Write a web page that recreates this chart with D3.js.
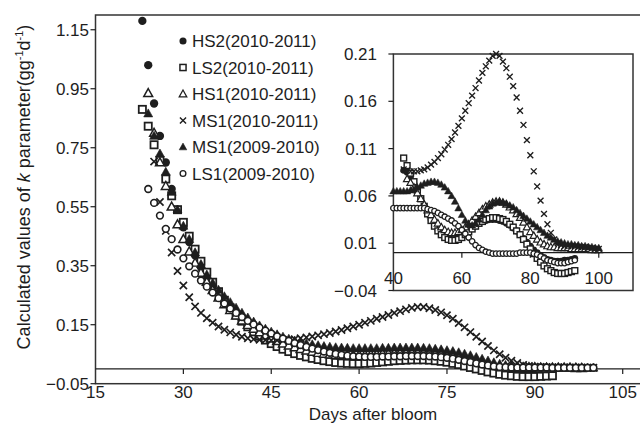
<!DOCTYPE html>
<html>
<head>
<meta charset="utf-8">
<script src="https://cdnjs.cloudflare.com/ajax/libs/d3/7.8.5/d3.min.js"></script>
<style>
    body { margin: 0; background: #fff; }
    svg { display: block; font-family: "Liberation Sans", Arial, sans-serif; }
</style>
</head>
<body>
<div id="chart"></div>
<script>
const seriesNames = ["HS2(2010-2011)", "LS2(2010-2011)", "HS1(2010-2011)", "MS1(2010-2011)", "MS1(2009-2010)", "LS1(2009-2010)"];

// main chart: first day of each series, then one value per day
const mainStartDays = [23, 23, 24, 25, 24, 24];
const mainHS2 = [1.18, 1.03, 0.90, 0.79, 0.70, 0.61, 0.54, 0.48, 0.43, 0.385,
    0.345, 0.31, 0.28, 0.252, 0.228, 0.206, 0.185, 0.165, 0.148, 0.133,
    0.119, 0.106, 0.095, 0.086, 0.078, 0.071, 0.064, 0.058, 0.053, 0.048,
    0.044, 0.040, 0.037, 0.034, 0.032, 0.030, 0.029, 0.029, 0.030, 0.031,
    0.033, 0.035, 0.037, 0.039, 0.041, 0.042, 0.043, 0.043, 0.043, 0.042,
    0.040, 0.038, 0.035, 0.031, 0.027, 0.023, 0.018, 0.013, 0.008, 0.004,
    0.000, -0.003, -0.006, -0.008, -0.010, -0.011, -0.011, -0.011, -0.010, -0.009,
    -0.008];
const mainLS2 = [0.88, 0.823, 0.76, 0.707, 0.644, 0.587, 0.54, 0.497, 0.45, 0.406,
    0.365, 0.328, 0.294, 0.262, 0.233, 0.207, 0.183, 0.162, 0.143, 0.126,
    0.111, 0.098, 0.086, 0.076, 0.067, 0.059, 0.052, 0.046, 0.041, 0.036,
    0.032, 0.028, 0.025, 0.022, 0.020, 0.019, 0.018, 0.018, 0.019, 0.020,
    0.022, 0.024, 0.026, 0.028, 0.029, 0.030, 0.031, 0.031, 0.031, 0.030,
    0.028, 0.026, 0.023, 0.019, 0.015, 0.010, 0.005, 0.000, -0.005, -0.010,
    -0.014, -0.018, -0.021, -0.023, -0.025, -0.026, -0.026, -0.026, -0.025, -0.024,
    -0.023];
const mainHS1 = [0.935, 0.80, 0.70, 0.62, 0.55, 0.49, 0.44, 0.398, 0.36,
    0.326, 0.295, 0.267, 0.242, 0.219, 0.199, 0.181, 0.164, 0.149, 0.136,
    0.124, 0.113, 0.103, 0.094, 0.086, 0.079, 0.073, 0.067, 0.062, 0.058,
    0.054, 0.051, 0.049, 0.047, 0.046, 0.046, 0.046, 0.047, 0.048, 0.049,
    0.050, 0.052, 0.053, 0.054, 0.055, 0.056, 0.056, 0.056, 0.056, 0.055,
    0.053, 0.051, 0.048, 0.044, 0.040, 0.035, 0.030, 0.025, 0.020, 0.016,
    0.012, 0.009, 0.007, 0.006, 0.005, 0.005, 0.005, 0.005, 0.004, 0.004,
    0.004, 0.004, 0.004, 0.004, 0.003, 0.003];
const mainMS1 = [0.703, 0.566, 0.468, 0.395, 0.332, 0.283, 0.243, 0.212,
    0.19, 0.172, 0.157, 0.144, 0.133, 0.124, 0.116, 0.109, 0.104, 0.101,
    0.099, 0.098, 0.097, 0.097, 0.098, 0.099, 0.101, 0.104, 0.107, 0.110,
    0.114, 0.118, 0.122, 0.127, 0.132, 0.138, 0.144, 0.150, 0.157, 0.163,
    0.170, 0.176, 0.183, 0.190, 0.196, 0.202, 0.207, 0.210, 0.210, 0.206,
    0.200, 0.192, 0.182, 0.170, 0.156, 0.141, 0.125, 0.109, 0.093, 0.078,
    0.063, 0.050, 0.038, 0.028, 0.020, 0.014, 0.010, 0.008, 0.007, 0.007,
    0.006, 0.006, 0.006, 0.005, 0.005, 0.005, 0.004, 0.004];
const mainMS109 = [0.866, 0.79, 0.73, 0.668, 0.60, 0.54, 0.485, 0.44, 0.395,
    0.355, 0.32, 0.292, 0.268, 0.246, 0.226, 0.207, 0.19, 0.174, 0.16,
    0.147, 0.136, 0.126, 0.117, 0.109, 0.102, 0.096, 0.091, 0.087, 0.083,
    0.080, 0.077, 0.075, 0.073, 0.072, 0.071, 0.070, 0.070, 0.070, 0.070,
    0.070, 0.071, 0.071, 0.072, 0.072, 0.072, 0.072, 0.072, 0.071, 0.070,
    0.068, 0.066, 0.063, 0.060, 0.056, 0.051, 0.046, 0.040, 0.034, 0.028,
    0.022, 0.017, 0.013, 0.010, 0.008, 0.007, 0.006, 0.006, 0.006, 0.006,
    0.005, 0.005, 0.005, 0.005, 0.005, 0.004, 0.004, 0.004];
const mainLS109 = [0.61, 0.563, 0.52, 0.475, 0.44, 0.405, 0.375, 0.348, 0.323,
    0.30, 0.279, 0.259, 0.24, 0.222, 0.205, 0.19, 0.176, 0.163, 0.151,
    0.14, 0.13, 0.12, 0.111, 0.103, 0.095, 0.088, 0.081, 0.075, 0.069,
    0.064, 0.059, 0.055, 0.051, 0.048, 0.045, 0.043, 0.042, 0.041, 0.041,
    0.041, 0.042, 0.042, 0.043, 0.043, 0.044, 0.044, 0.044, 0.044, 0.043,
    0.042, 0.040, 0.038, 0.035, 0.031, 0.027, 0.023, 0.019, 0.015, 0.012,
    0.009, 0.007, 0.006, 0.005, 0.005, 0.005, 0.005, 0.005, 0.005, 0.005,
    0.004, 0.004, 0.004, 0.004, 0.004, 0.004, 0.004, 0.004];

// inset chart
const insetStartDays = [43, 43, 44, 43, 40, 40];
const insetHS2 = [0.087, 0.085, 0.080, 0.073, 0.065, 0.057, 0.049, 0.042, 0.035, 0.029,
    0.024, 0.020, 0.017, 0.015, 0.014, 0.014, 0.015, 0.017, 0.020, 0.023,
    0.026, 0.029, 0.031, 0.033, 0.034, 0.035, 0.035, 0.035, 0.034, 0.033,
    0.031, 0.029, 0.026, 0.023, 0.019, 0.015, 0.011, 0.007, 0.003, 0.000,
    -0.003, -0.005, -0.007, -0.008, -0.009, -0.009, -0.009, -0.008, -0.008, -0.007,
    -0.006];
const insetLS2 = [0.100, 0.092, 0.084, 0.075, 0.066, 0.057, 0.049, 0.041, 0.034, 0.028,
    0.023, 0.019, 0.016, 0.014, 0.013, 0.013, 0.014, 0.016, 0.019, 0.022,
    0.025, 0.028, 0.031, 0.033, 0.035, 0.036, 0.037, 0.037, 0.036, 0.035,
    0.033, 0.030, 0.027, 0.023, 0.019, 0.014, 0.009, 0.004, -0.001, -0.006,
    -0.010, -0.014, -0.017, -0.019, -0.021, -0.022, -0.022, -0.022, -0.021, -0.020,
    -0.019];
const insetHS1 = [0.078, 0.074, 0.069, 0.063, 0.057, 0.051, 0.045, 0.040, 0.035,
    0.031, 0.027, 0.024, 0.022, 0.021, 0.021, 0.022, 0.024, 0.027, 0.030,
    0.034, 0.038, 0.042, 0.046, 0.049, 0.051, 0.053, 0.054, 0.054, 0.053,
    0.051, 0.048, 0.045, 0.041, 0.037, 0.032, 0.027, 0.022, 0.018, 0.014,
    0.011, 0.009, 0.007, 0.006, 0.006, 0.005, 0.005, 0.005, 0.005, 0.004,
    0.004, 0.004, 0.004, 0.004, 0.004, 0.003, 0.003, 0.003];
const insetMS1 = [0.088, 0.087, 0.086, 0.086, 0.086, 0.087, 0.088, 0.090, 0.093, 0.096,
    0.100, 0.104, 0.109, 0.114, 0.120, 0.127, 0.134, 0.142, 0.150, 0.158,
    0.166, 0.174, 0.182, 0.190, 0.197, 0.203, 0.208, 0.210, 0.208, 0.202,
    0.195, 0.186, 0.176, 0.164, 0.150, 0.135, 0.119, 0.103, 0.086, 0.070,
    0.055, 0.041, 0.030, 0.021, 0.014, 0.010, 0.008, 0.007, 0.007, 0.007,
    0.007, 0.006, 0.006, 0.006, 0.005, 0.005, 0.004, 0.004];
const insetMS109 = [0.065, 0.065, 0.065, 0.065, 0.065, 0.066, 0.067, 0.069, 0.071, 0.073,
    0.074, 0.075, 0.075, 0.074, 0.072, 0.069, 0.065, 0.060, 0.054, 0.047,
    0.040, 0.034, 0.030, 0.029, 0.031, 0.035, 0.040, 0.045, 0.049, 0.052,
    0.053, 0.054, 0.053, 0.052, 0.050, 0.048, 0.045, 0.042, 0.039, 0.036,
    0.033, 0.030, 0.027, 0.024, 0.021, 0.018, 0.016, 0.014, 0.012, 0.011,
    0.010, 0.009, 0.009, 0.008, 0.008, 0.007, 0.007, 0.006, 0.006, 0.005,
    0.005];
const insetLS109 = [0.047, 0.047, 0.047, 0.047, 0.047, 0.047, 0.047, 0.047, 0.047, 0.047,
    0.046, 0.045, 0.044, 0.042, 0.040, 0.038, 0.036, 0.034, 0.031, 0.028,
    0.024, 0.020, 0.016, 0.012, 0.008, 0.005, 0.003, 0.001, 0.000, -0.001,
    -0.001, -0.001, -0.001, -0.001, -0.001, -0.001, -0.001, 0.000, 0.000, 0.000,
    0.000, -0.001, -0.002, -0.004, -0.006, -0.008, -0.009, -0.010, -0.011, -0.011,
    -0.011, -0.010, -0.009, -0.008];

const mainXTicks = [15, 30, 45, 60, 75, 90, 105];
const mainYTicks = [-0.05, 0.15, 0.35, 0.55, 0.75, 0.95, 1.15];
const insetXTicks = [40, 60, 80, 100];
const insetYTicks = [-0.04, 0.01, 0.06, 0.11, 0.16, 0.21];

(function() {
    const ink = "#1e1e1e";
    const fontSize = 17;
    const markerTypes = ["dot", "square", "triangle", "cross", "filledTriangle", "ring"];
    const mainSeries = [mainHS2, mainLS2, mainHS1, mainMS1, mainMS109, mainLS109];
    const insetSeries = [insetHS2, insetLS2, insetHS1, insetMS1, insetMS109, insetLS109];

    const svg = d3.select("#chart")
        .append("svg")
        .attr("width", 640)
        .attr("height", 432);

    // one marker shape per series, s = nominal size in px
    function addMarker(sel, type, s) {
        if (type === "dot") {
            sel.append("circle").attr("r", s * 0.52).attr("fill", ink);
        } else if (type === "ring") {
            sel.append("circle").attr("r", s * 0.42)
                .attr("fill", "#fff").attr("stroke", ink).attr("stroke-width", s * 0.2);
        } else if (type === "square") {
            sel.append("rect")
                .attr("x", -s * 0.45).attr("y", -s * 0.45)
                .attr("width", s * 0.9).attr("height", s * 0.9)
                .attr("fill", "#fff").attr("stroke", ink).attr("stroke-width", s * 0.22);
        } else if (type === "triangle" || type === "filledTriangle") {
            sel.append("path")
                .attr("d", `M0,${-s * 0.58}L${s * 0.56},${s * 0.42}L${-s * 0.56},${s * 0.42}Z`)
                .attr("fill", type === "triangle" ? "#fff" : ink)
                .attr("stroke", ink)
                .attr("stroke-width", type === "triangle" ? s * 0.18 : s * 0.08);
        } else {
            const h = s * 0.45;
            sel.append("path")
                .attr("d", `M${-h},${-h}L${h},${h}M${-h},${h}L${h},${-h}`)
                .attr("stroke", ink).attr("stroke-width", s * 0.21).attr("fill", "none");
        }
    }

    function drawSeries(g, x, y, seriesList, starts, size) {
        seriesList.forEach((values, i) => {
            const pts = values.map((v, k) => ({ day: starts[i] + k, value: v }));
            const marks = g.append("g").selectAll("g")
                .data(pts)
                .enter().append("g")
                .attr("transform", d => `translate(${x(d.day)},${y(d.value)})`);
            addMarker(marks, markerTypes[i], size);
        });
    }

    const fmt = d3.format(".2f");

    // ---- main chart ----
    const x = d3.scaleLinear().domain([15, 110]).range([95.5, 652]);
    const y = d3.scaleLinear().domain([-0.05, 1.2]).range([383.7, 15]);
    const main = svg.append("g");

    main.append("rect")
        .attr("x", x(15)).attr("y", y(1.2))
        .attr("width", x(110) - x(15)).attr("height", y(-0.05) - y(1.2))
        .attr("fill", "none").attr("stroke", "#333").attr("stroke-width", 1.5);

    main.append("line")
        .attr("x1", x(15)).attr("x2", x(110))
        .attr("y1", y(0)).attr("y2", y(0))
        .attr("stroke", ink).attr("stroke-width", 1.2);

    main.selectAll(".xtick").data(mainXTicks.slice(1)).enter().append("line")
        .attr("x1", d => x(d)).attr("x2", d => x(d))
        .attr("y1", y(0)).attr("y2", y(0) + 5)
        .attr("stroke", ink).attr("stroke-width", 1.2);

    main.selectAll(".xlab").data(mainXTicks).enter().append("text")
        .attr("x", d => x(d)).attr("y", 398)
        .attr("text-anchor", "middle")
        .attr("font-size", fontSize).attr("fill", ink)
        .text(d => d);

    main.selectAll(".ytick").data(mainYTicks).enter().append("line")
        .attr("x1", x(15) - 5).attr("x2", x(15))
        .attr("y1", d => y(d)).attr("y2", d => y(d))
        .attr("stroke", ink).attr("stroke-width", 1.2);

    main.selectAll(".ylab").data(mainYTicks).enter().append("text")
        .attr("x", 89).attr("y", d => y(d))
        .attr("dy", "0.36em")
        .attr("text-anchor", "end")
        .attr("font-size", fontSize).attr("fill", ink)
        .text(d => fmt(d));

    main.append("text")
        .attr("x", 373).attr("y", 420)
        .attr("text-anchor", "middle")
        .attr("font-size", fontSize).attr("fill", ink)
        .text("Days after bloom");

    const yTitle = main.append("text")
        .attr("transform", "translate(30,187) rotate(-90)")
        .attr("text-anchor", "middle")
        .attr("font-size", 18).attr("fill", ink);
    yTitle.append("tspan").text("Calculated values of ");
    yTitle.append("tspan").attr("font-style", "italic").text("k");
    yTitle.append("tspan").text(" parameter(gg");
    yTitle.append("tspan").attr("font-size", 11).attr("dy", -7).text("-1");
    yTitle.append("tspan").attr("dy", 7).text("d");
    yTitle.append("tspan").attr("font-size", 11).attr("dy", -7).text("-1");
    yTitle.append("tspan").attr("dy", 7).text(")");

    drawSeries(main, x, y, mainSeries, mainStartDays, 8);

    // legend
    const legend = main.append("g");
    seriesNames.forEach((name, i) => {
        const cy = 41 + i * 26.5;
        const m = legend.append("g").attr("transform", `translate(183,${cy})`);
        addMarker(m, markerTypes[i], 6.8);
        legend.append("text")
            .attr("x", 192).attr("y", cy).attr("dy", "0.36em")
            .attr("font-size", fontSize).attr("fill", ink)
            .text(name);
    });

    // ---- inset ----
    const ix = d3.scaleLinear().domain([40, 110]).range([393.4, 633]);
    const iy = d3.scaleLinear().domain([-0.04, 0.21]).range([290.5, 54]);
    const inset = svg.append("g");

    inset.append("rect")
        .attr("x", ix(40)).attr("y", iy(0.21))
        .attr("width", ix(110) - ix(40)).attr("height", iy(-0.04) - iy(0.21))
        .attr("fill", "#fff").attr("stroke", "#333").attr("stroke-width", 1.5);

    inset.append("line")
        .attr("x1", ix(40)).attr("x2", ix(110))
        .attr("y1", iy(0)).attr("y2", iy(0))
        .attr("stroke", ink).attr("stroke-width", 1.2);

    inset.selectAll(".xtick").data(insetXTicks.slice(1)).enter().append("line")
        .attr("x1", d => ix(d)).attr("x2", d => ix(d))
        .attr("y1", iy(0)).attr("y2", iy(0) + 5)
        .attr("stroke", ink).attr("stroke-width", 1.2);

    inset.selectAll(".xlab").data(insetXTicks).enter().append("text")
        .attr("x", d => ix(d)).attr("y", 284)
        .attr("text-anchor", "middle")
        .attr("font-size", fontSize).attr("fill", ink)
        .text(d => d);

    inset.selectAll(".ytick").data(insetYTicks).enter().append("line")
        .attr("x1", ix(40) - 5).attr("x2", ix(40))
        .attr("y1", d => iy(d)).attr("y2", d => iy(d))
        .attr("stroke", ink).attr("stroke-width", 1.2);

    inset.selectAll(".ylab").data(insetYTicks).enter().append("text")
        .attr("x", 377).attr("y", d => iy(d))
        .attr("dy", "0.36em")
        .attr("text-anchor", "end")
        .attr("font-size", fontSize).attr("fill", ink)
        .text(d => fmt(d));

    drawSeries(inset, ix, iy, insetSeries, insetStartDays, 6.5);
})();
</script>
</body>
</html>
